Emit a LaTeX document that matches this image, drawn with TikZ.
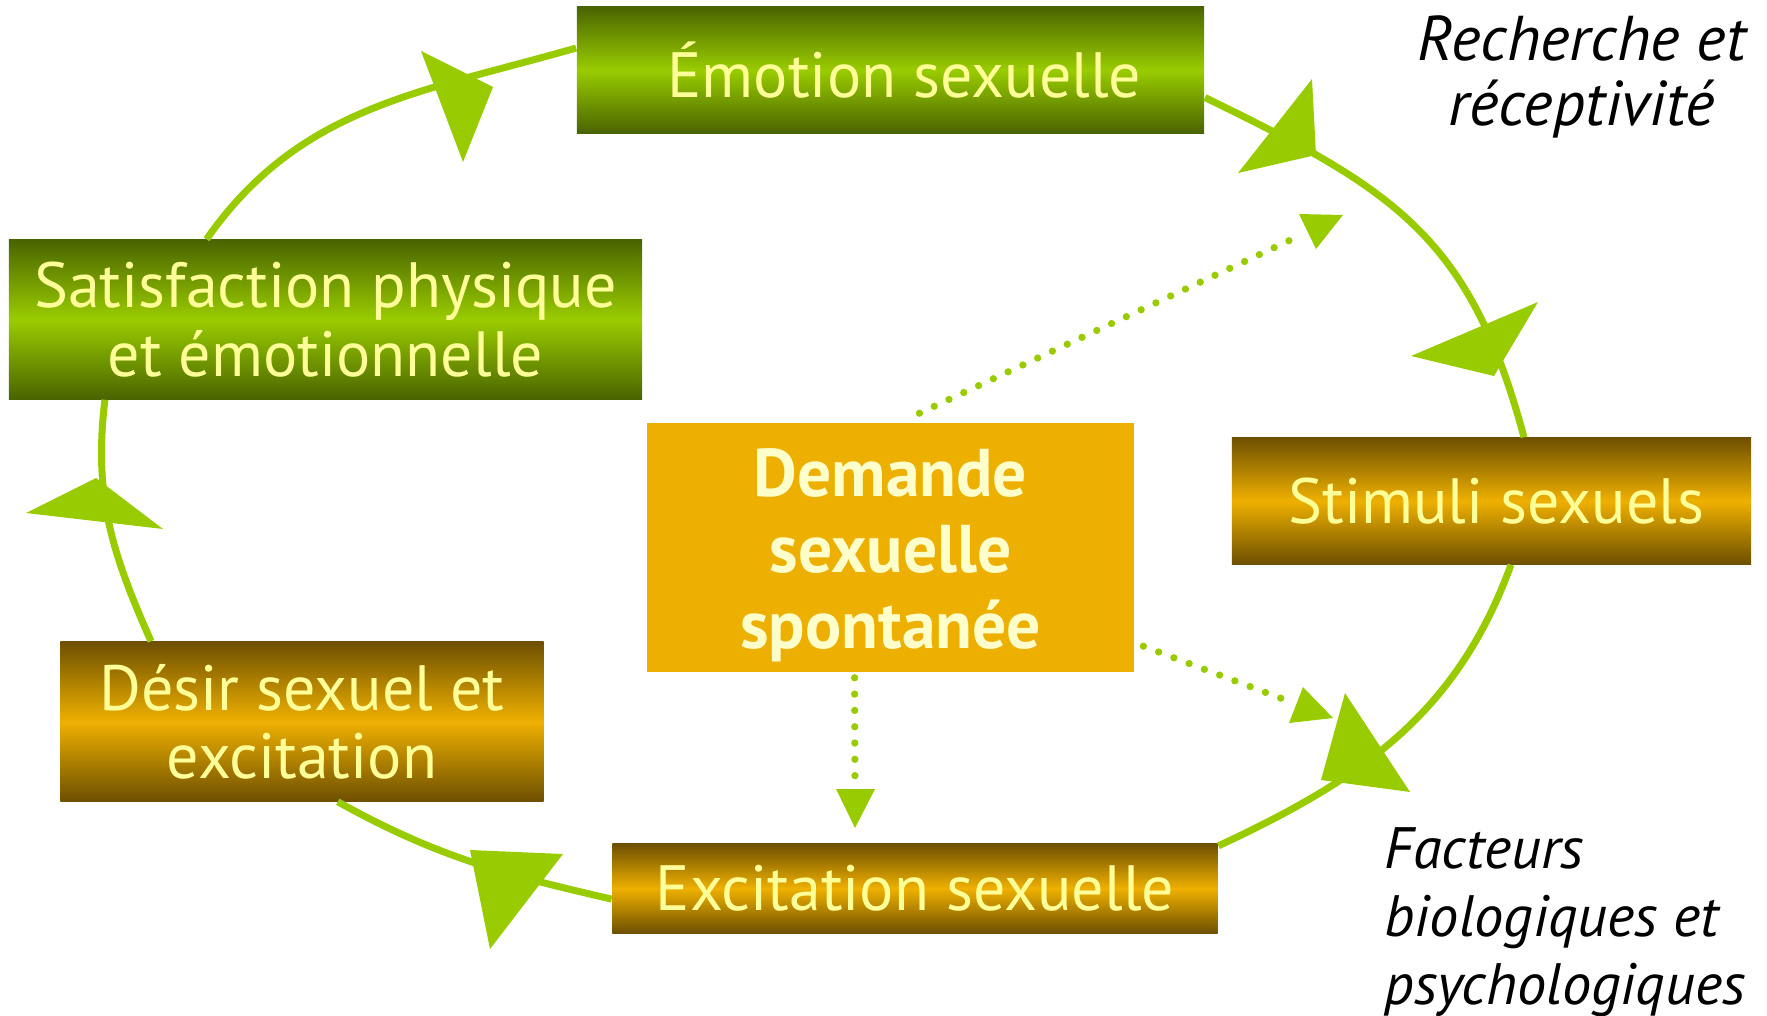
\documentclass[tikz,border=0pt]{standalone}
\usepackage{fontspec}
\usepackage{xcolor}
\usepackage{tikz}
\usetikzlibrary{positioning, calc, shadings}

\newfontfamily\boxfont{PT Sans}

\definecolor{grdark}{HTML}{4A6400}
\definecolor{grlight}{HTML}{99CC00}
\definecolor{gddark}{HTML}{6E5000}
\definecolor{gdlight}{HTML}{EEB000}
\definecolor{cream}{HTML}{FFFF99}
\definecolor{paleyellow}{HTML}{FFFFCC}
\definecolor{linegreen}{HTML}{99CC00}

\begin{document}
\begin{tikzpicture}[x=0.01cm, y=0.01cm,
    boxtext/.style={rectangle, inner sep=0pt, align=center, text=cream,
      font=\boxfont\fontsize{18.2}{19.4}\selectfont},
    greenbox/.style={boxtext, top color=grdark, bottom color=grdark, middle color=grlight},
    goldbox/.style={boxtext, top color=gddark, bottom color=gddark, middle color=gdlight},
    cycleline/.style={draw=linegreen, line width=0.07cm},
    dotline/.style={draw=linegreen, line width=0.073cm, line cap=round, dash pattern=on 0pt off 0.163cm},
    headtri/.style={fill=linegreen},
    sidetext/.style={align=center, font=\boxfont\itshape\fontsize{18}{18.5}\selectfont}]
        \useasboundingbox (0,0) rectangle (1767,-1015);

        % the six boxes
        \node[greenbox, minimum width=6.27cm, minimum height=1.26cm] (emo) at (890.5,-70) {\hspace*{0.28cm}Émotion sexuelle};
        \node[greenbox, minimum width=6.33cm, minimum height=1.59cm] (satis) at (325.5,-319.5) {Satisfaction physique\\et émotionnelle};
        \node[goldbox, minimum width=5.19cm, minimum height=1.26cm] (stim) at (1491.5,-501) {\hspace*{0.1cm}Stimuli sexuels};
        \node[goldbox, minimum width=4.83cm, minimum height=1.59cm] (desir) at (302,-721.5) {Désir sexuel et\\excitation};
        \node[goldbox, minimum width=6.05cm, minimum height=0.89cm] (excit) at (915,-888.5) {Excitation sexuelle};
        \node[rectangle, fill=gdlight, inner sep=0pt, align=center, text=paleyellow,
              font=\boxfont\bfseries\fontsize{19.2}{21.6}\selectfont,
              minimum width=4.87cm, minimum height=2.49cm] (dem) at (890.5,-547.5) {\\[-0.12cm]Demande\\sexuelle\\spontanée};

        \node[sidetext] (recherche) at (1582,-77) {Recherche et\\réceptivité};
        \node[sidetext, align=left, anchor=west, font=\boxfont\itshape\fontsize{16.6}{19.3}\selectfont] (facteurs) at (1372,-922) {Facteurs\\biologiques et\\psychologiques};

        % the cycle
        \draw[cycleline] (satis.146.5) to[out=55, in=196] (emo.176.3);
        \draw[cycleline] (emo.-5.1) to[out=-26, in=105, looseness=1.15] (stim.63.4);
        \draw[cycleline] (stim.-73.6) to[out=-110, in=25] (excit.8.9);
        \draw[cycleline] (excit.182.2) to[out=167, in=-29] (desir.-66);
        \draw[cycleline] (desir.152.5) to[out=114, in=-97] (satis.200.1);

        \fill[headtri] (421,-51) -- (493,-87) -- (463,-162) -- cycle;
        \fill[headtri] (1312,-79) -- (1238,-173) -- (1316,-155) -- cycle;
        \fill[headtri] (1538,-302) -- (1411,-356) -- (1494,-376) -- cycle;
        \fill[headtri] (1345,-693) -- (1321,-780) -- (1410,-792) -- cycle;
        \fill[headtri] (470,-850) -- (563,-854) -- (490,-949) -- cycle;
        \fill[headtri] (26,-513) -- (96,-478) -- (163,-529) -- cycle;

        % dotted arrows from the centre
        \coordinate (upend) at (1297,-237);
        \coordinate (rightend) at (1293.5,-703);
        \coordinate (downend) at (855,-788);
        \draw[dotline] ([yshift=0.09cm]dem.77) -- (upend);
        \draw[dotline] ([xshift=0.085cm]dem.-22.4) -- (rightend);
        \draw[dotline] ([yshift=-0.05cm]dem.254.1) -- (downend);
        \fill[headtri] (1299,-214) -- (1343,-215) -- (1316,-249) -- cycle;
        \fill[headtri] (1303,-687) -- (1333,-718) -- (1289,-723) -- cycle;
        \fill[headtri] (836,-789) -- (875,-789) -- (855,-828) -- cycle;
      \end{tikzpicture}
\end{document}
